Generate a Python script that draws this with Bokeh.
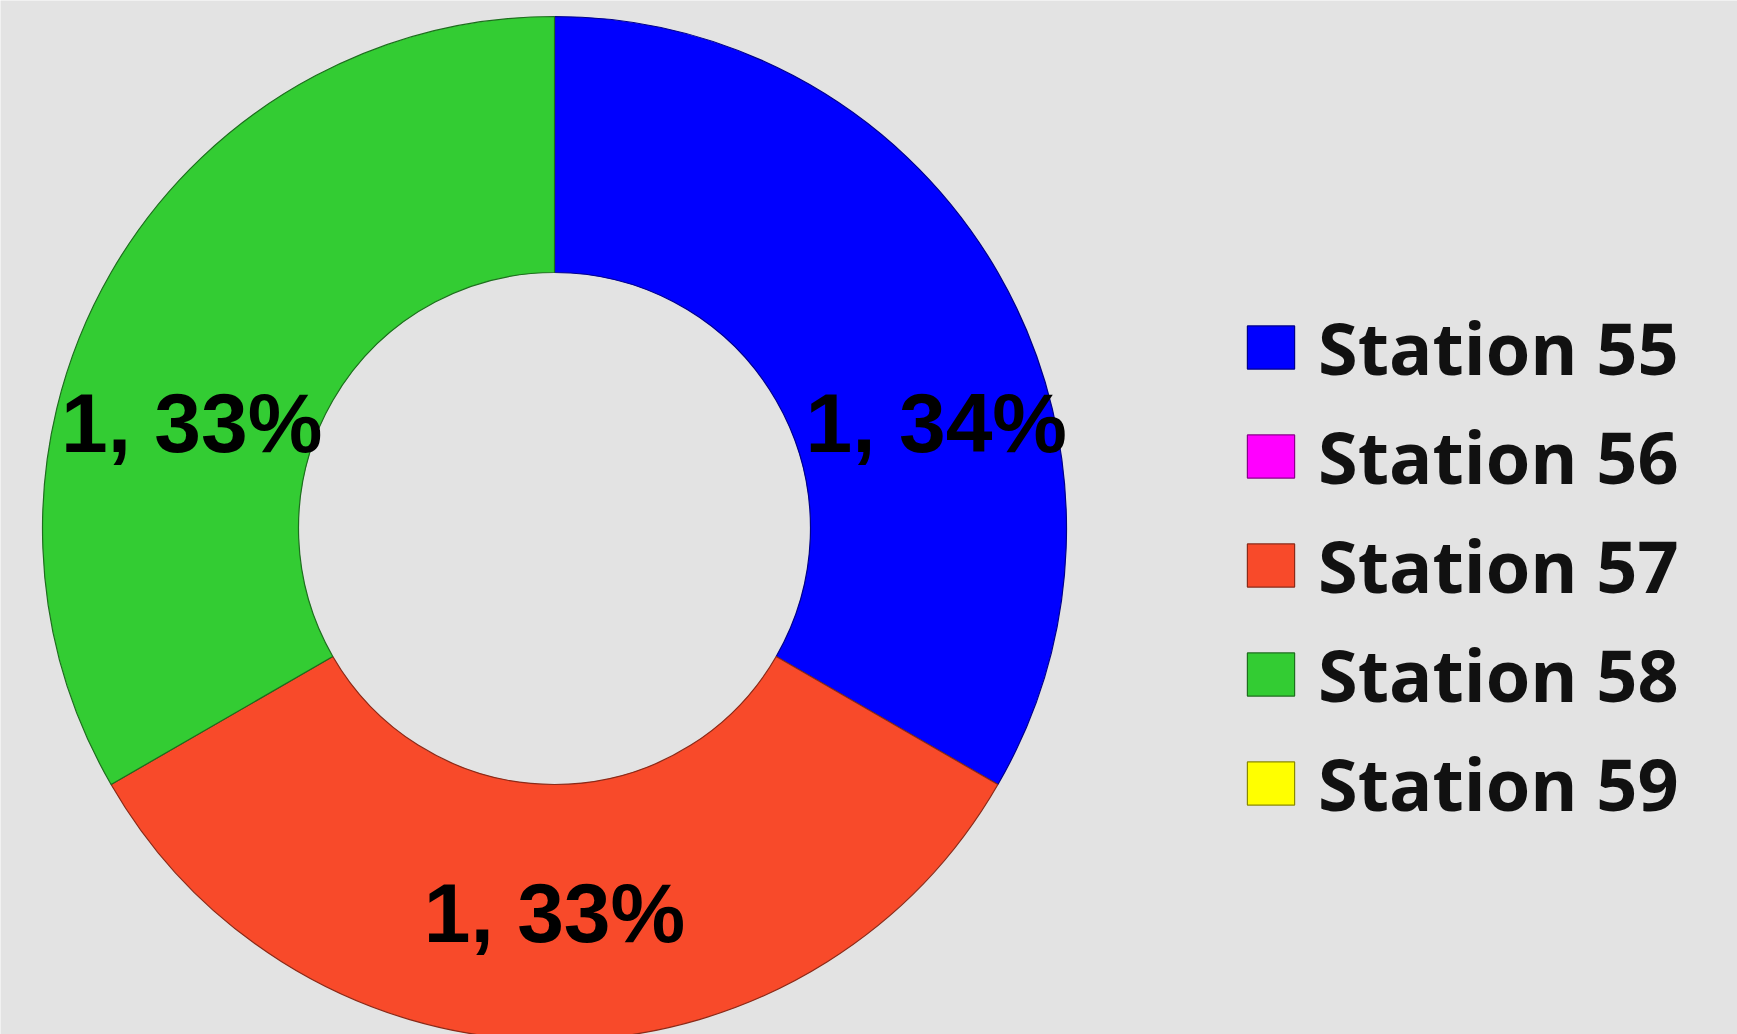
import math
from bokeh.plotting import figure
from bokeh.models import Range1d, Legend, LegendItem, ColumnDataSource
from bokeh.core.properties import value
from bokeh.embed import file_html
from bokeh.resources import INLINE

# ---- data ----
stations = ["Station 55", "Station 56", "Station 57", "Station 58", "Station 59"]
counts = [1, 0, 1, 1, 0]
pct_labels = ["34%", "0%", "33%", "33%", "0%"]
colors = ["#0000FF", "#FF00FF", "#F84A2A", "#33CC33", "#FFFF00"]
edge_colors = ["#00008A", "#8A008A", "#8A2A18", "#1E6E1E", "#8A8A00"]

# ---- layout (pixels) ----
W, H = 1737, 1034
cx, cy = 554, 506
r_out, r_in = 512, 256
label_r = 388
label_nudge_deg = [-15, 0, 0, 15, 0]   # style: pull side labels toward horizontal
label_dx = [7, 0, 0, 12, 0]             # style: small screen nudges
label_dy = [-5, 0, -4, -5, 0]

p = figure(width=W, height=H, x_range=Range1d(0, W), y_range=Range1d(0, H),
           x_axis_type=None, y_axis_type=None, toolbar_location=None,
           output_backend="svg", min_border=0)
p.background_fill_color = "#E3E3E3"
p.border_fill_color = "#E3E3E3"
p.outline_line_color = None
p.grid.visible = False

total = sum(counts)
cum = 0.0
items = []
lab = dict(x=[], y=[], t=[], dx=[], dy=[])
for i, (name, c) in enumerate(zip(stations, counts)):
    a0 = math.pi / 2 - 2 * math.pi * cum / total
    a1 = math.pi / 2 - 2 * math.pi * (cum + c) / total
    cum += c
    ro = r_out if c > 0 else 0
    ri = r_in if c > 0 else 0
    src = ColumnDataSource(dict(x=[cx], y=[cy], s=[a0], e=[a1], ro=[ro], ri=[ri]))
    r = p.annular_wedge(x="x", y="y", inner_radius="ri", outer_radius="ro",
                        start_angle="s", end_angle="e", direction="clock",
                        source=src, fill_color=colors[i],
                        line_color=edge_colors[i], line_width=1.2)
    items.append(LegendItem(label=name, renderers=[r]))
    if c > 0:
        mid = (a0 + a1) / 2 + math.radians(label_nudge_deg[i])
        lab["x"].append(cx + label_r * math.cos(mid))
        lab["y"].append(cy + label_r * math.sin(mid))
        lab["t"].append(f"{c}, {pct_labels[i]}")
        lab["dx"].append(label_dx[i])
        lab["dy"].append(label_dy[i])

p.text(x="x", y="y", text="t", x_offset="dx", y_offset="dy",
       source=ColumnDataSource(lab),
       text_align="center", text_baseline="middle",
       text_font=value("Liberation Sans"), text_font_style="bold",
       text_font_size="84px", text_color="#000000")

legend = Legend(items=items, location=(1241, 202), orientation="vertical",
                glyph_width=59, glyph_height=54, label_standoff=18,
                label_height=80, spacing=11, padding=0, margin=0,
                border_line_color=None, background_fill_alpha=0,
                label_text_font="Open Sans", label_text_font_style="bold",
                label_text_font_size="72px", label_text_color="#111111",
                label_text_baseline="middle")
p.add_layout(legend)

open("out.html", "w").write(file_html(p, INLINE))
